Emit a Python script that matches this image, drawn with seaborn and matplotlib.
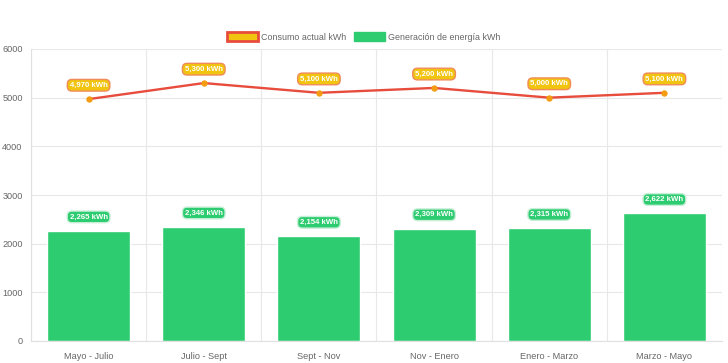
import matplotlib
matplotlib.use("Agg")
import matplotlib.pyplot as plt
from matplotlib.patches import Patch
from matplotlib.ticker import FixedLocator
import seaborn as sns
import pandas as pd

periodos = ["Mayo - Julio", "Julio - Sept", "Sept - Nov", "Nov - Enero", "Enero - Marzo", "Marzo - Mayo"]
consumo = [4970, 5300, 5100, 5200, 5000, 5100]
generacion = [2265, 2346, 2154, 2309, 2315, 2622]

sns.set_style("white")
plt.rcParams['font.family'] = ['Liberation Sans', 'DejaVu Sans']

df = pd.DataFrame({"periodo": periodos, "consumo": consumo, "generacion": generacion})

fig = plt.figure(figsize=(7.28, 3.63), dpi=100)
ax = fig.add_axes([31 / 728, 1 - 341 / 363, 691 / 728, 292 / 363])

sns.barplot(data=df, x="periodo", y="generacion", color="#2ecc71", saturation=1,
            width=0.72, ax=ax, zorder=2)
sns.lineplot(data=df, x="periodo", y="consumo", color="#e74c3c", linewidth=1.7,
             marker="o", markersize=3.8, markerfacecolor="#f39c12",
             markeredgecolor="#f39c12", sort=False, ax=ax, zorder=3)

# etiquetas de valores
for i, v in enumerate(consumo):
    ax.annotate(f"{v:,} kWh", (i, v), xytext=(0, 10), textcoords="offset points",
                ha="center", va="center", fontsize=5.6, color="white", fontweight="bold",
                bbox=dict(boxstyle="round,pad=0.3,rounding_size=0.6", fc="#f1c40f",
                          ec="#f08c5a", lw=1), zorder=5)
for i, v in enumerate(generacion):
    ax.annotate(f"{v:,} kWh", (i, v), xytext=(0, 10), textcoords="offset points",
                ha="center", va="center", fontsize=5.6, color="white", fontweight="bold",
                bbox=dict(boxstyle="round,pad=0.3,rounding_size=0.6", fc="#2ecc71",
                          ec="#c8efd8", lw=1), zorder=5)

ax.set_xlim(-0.5, len(periodos) - 0.5)
ax.set_ylim(0, 6000)
ax.set_yticks(range(0, 6001, 1000))
ax.set_xlabel("")
ax.set_ylabel("")

ax.xaxis.set_minor_locator(FixedLocator([i - 0.5 for i in range(len(periodos) + 1)]))
ax.grid(True, which="minor", axis="x", color="#e8e8e8", lw=0.8, zorder=0)
ax.grid(True, which="major", axis="y", color="#e8e8e8", lw=0.8, zorder=0)
ax.set_axisbelow(True)
ax.tick_params(axis="x", which="major", length=0, labelsize=6.6, labelcolor="#666666", pad=8)
ax.tick_params(axis="x", which="minor", length=5, color="#e8e8e8", width=0.8)
ax.tick_params(axis="y", length=4, color="#e8e8e8", width=0.8, labelsize=6.6,
               labelcolor="#666666", pad=2)

for s in ["top", "right"]:
    ax.spines[s].set_visible(False)
for s in ["left", "bottom"]:
    ax.spines[s].set_color("#e0e0e0")
    ax.spines[s].set_linewidth(0.8)

handles = [Patch(facecolor="#f1c40f", edgecolor="#e74c3c", linewidth=2, label="Consumo actual kWh"),
           Patch(facecolor="#2ecc71", edgecolor="#2ecc71", label="Generación de energía kWh")]
fig.legend(handles=handles, loc="center", bbox_to_anchor=(0.5, 1 - 37 / 363), ncol=2,
           frameon=False, fontsize=6.4, handlelength=3.4, handleheight=1.1,
           columnspacing=0.9, handletextpad=0.4, labelcolor="#666666")

fig.savefig("out.png", dpi=100)
